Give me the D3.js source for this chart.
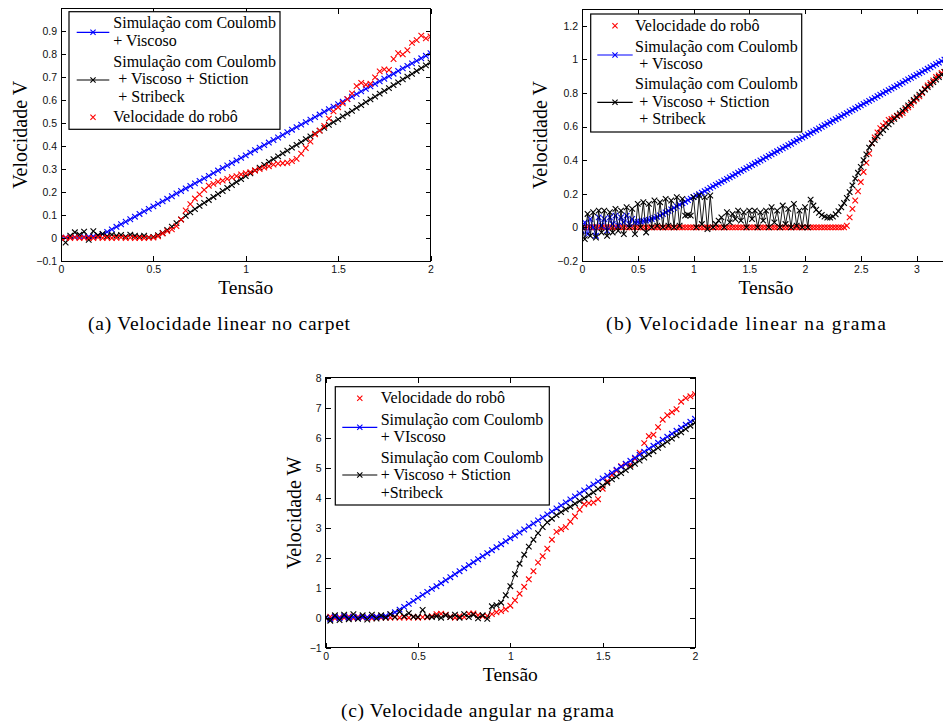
<!DOCTYPE html>
<html>
<head>
<meta charset="utf-8">
<script src="https://cdn.jsdelivr.net/npm/d3@7/dist/d3.min.js"></script>
<style>
  html, body { margin: 0; padding: 0; background: #fff; overflow: hidden; }
  svg { display: block; }
</style>
</head>
<body>
<div class="chart"></div>
<script>
//Sampling step of the voltage (Tensão) axis, shared by every series.
var step = 0.025;

//(a) Velocidade linear no carpet, x = 0 .. 2
var carpetBlue = [0, 0.002, 0.003, 0.004, 0.004, 0.005, 0.006, 0.007, 0.01, 0.017,
  0.027, 0.038, 0.049, 0.060, 0.071, 0.082, 0.093, 0.105, 0.116, 0.127,
  0.138, 0.149, 0.160, 0.171, 0.182, 0.194, 0.205, 0.216, 0.227, 0.238,
  0.249, 0.260, 0.271, 0.283, 0.294, 0.305, 0.316, 0.327, 0.338, 0.349,
  0.360, 0.372, 0.383, 0.394, 0.405, 0.416, 0.427, 0.438, 0.449, 0.461,
  0.472, 0.483, 0.494, 0.505, 0.516, 0.527, 0.538, 0.550, 0.561, 0.572,
  0.583, 0.594, 0.605, 0.616, 0.627, 0.639, 0.650, 0.661, 0.672, 0.683,
  0.694, 0.705, 0.716, 0.728, 0.739, 0.750, 0.761, 0.772, 0.783, 0.794, 0.805];
var carpetBlack = [0, -0.02, 0.01, 0.025, 0.015, 0.028, -0.008, 0.03, 0.012, 0.018,
  0.008, 0.015, 0.01, 0.014, 0.006, 0.015, 0.01, 0.006, 0.01, 0.003,
  0.005, 0.012, 0.022, 0.035, 0.05, 0.065, 0.081, 0.097, 0.112, 0.126,
  0.14, 0.153, 0.166, 0.179, 0.192, 0.205, 0.218, 0.231, 0.244, 0.257,
  0.27, 0.282, 0.295, 0.307, 0.319, 0.332, 0.344, 0.356, 0.369, 0.381,
  0.394, 0.406, 0.418, 0.431, 0.443, 0.455, 0.468, 0.480, 0.493, 0.505,
  0.517, 0.530, 0.542, 0.554, 0.567, 0.579, 0.592, 0.604, 0.616, 0.629,
  0.641, 0.653, 0.666, 0.678, 0.691, 0.703, 0.715, 0.728, 0.740, 0.752, 0.765];
var carpetRed = [0, 0.002, 0, 0.003, 0, 0.002, 0.001, 0, 0.003, 0,
  0.002, 0, 0.001, 0.003, 0, 0.002, 0, 0.001, 0, 0.002,
  0.002, 0.008, 0.02, 0.03, 0.038, 0.052, 0.08, 0.12, 0.148, 0.172,
  0.19, 0.21, 0.228, 0.236, 0.245, 0.25, 0.258, 0.265, 0.27, 0.277,
  0.282, 0.287, 0.294, 0.3, 0.307, 0.313, 0.32, 0.324, 0.326, 0.328,
  0.335, 0.345, 0.368, 0.392, 0.42, 0.452, 0.468, 0.488, 0.52, 0.552,
  0.57, 0.587, 0.605, 0.63, 0.662, 0.676, 0.668, 0.672, 0.7, 0.726,
  0.735, 0.732, 0.78, 0.805, 0.8, 0.818, 0.85, 0.862, 0.882, 0.87, 0.878];

//(b) Velocidade linear na grama, x = 0 .. 3.3
var gramaRed = [0, 0, 0, 0, 0, 0, 0, 0, 0, 0,
  0, 0, 0, 0, 0, 0, 0, 0, 0, 0,
  0, 0, 0, 0, 0, 0, 0, 0, 0, 0,
  0, 0, 0, 0, 0, 0, 0, 0, 0, 0,
  0, 0, 0, 0, 0, 0, 0, 0, 0, 0,
  0, 0, 0, 0, 0, 0, 0, 0, 0, 0,
  0, 0, 0, 0, 0, 0, 0, 0, 0, 0,
  0, 0, 0, 0, 0, 0, 0, 0, 0, 0,
  0, 0, 0, 0, 0, 0, 0, 0, 0, 0,
  0, 0, 0, 0, 0,
  0.01, 0.06, 0.11, 0.16, 0.215, 0.27, 0.33, 0.385, 0.44, 0.5,
  0.535, 0.565, 0.59, 0.605, 0.62, 0.64, 0.645, 0.655, 0.665, 0.67,
  0.68, 0.7, 0.715, 0.73, 0.75, 0.765, 0.78, 0.8, 0.825, 0.845,
  0.86, 0.875, 0.895, 0.905, 0.92, 0.925, 0.94, 0.95];
var gramaBlue = [-0.02, 0.03, -0.04, 0.05, 0, -0.05, 0.06, 0.01, 0.05, -0.02,
  0.06, 0.02, 0.07, 0.01, 0.06, 0.03, 0.07, 0.02, 0.05, 0.03,
  0.032, 0.035, 0.038, 0.041, 0.045, 0.05, 0.056, 0.063, 0.071, 0.080,
  0.089, 0.098, 0.107, 0.116, 0.125, 0.135, 0.144, 0.153, 0.162, 0.171,
  0.18, 0.189, 0.198, 0.207, 0.216, 0.225, 0.235, 0.244, 0.253, 0.262,
  0.271, 0.28, 0.289, 0.298, 0.307, 0.316, 0.326, 0.335, 0.344, 0.353,
  0.362, 0.371, 0.38, 0.389, 0.398, 0.407, 0.417, 0.426, 0.435, 0.444,
  0.453, 0.462, 0.471, 0.48, 0.489, 0.498, 0.508, 0.517, 0.526, 0.535,
  0.544, 0.553, 0.562, 0.571, 0.58, 0.589, 0.599, 0.608, 0.617, 0.626,
  0.635, 0.644, 0.653, 0.662, 0.671, 0.68, 0.69, 0.699, 0.708, 0.717,
  0.726, 0.735, 0.744, 0.753, 0.762, 0.771, 0.781, 0.79, 0.799, 0.808,
  0.817, 0.826, 0.835, 0.844, 0.853, 0.862, 0.872, 0.881, 0.89, 0.899,
  0.908, 0.917, 0.926, 0.935, 0.944, 0.953, 0.963, 0.972, 0.981, 0.99,
  0.999, 1.008, 1.017];
var gramaBlack = [0, -0.07, 0.08, -0.05, 0.09, -0.06, 0.1, -0.03, 0.1, -0.05,
  0.09, -0.03, 0.11, -0.02, 0.1, -0.04, 0.12, 0, 0.11, -0.04,
  0.14, 0, 0.15, -0.03, 0.14, 0, 0.16, 0.01, 0.15, 0,
  0.17, 0.01, 0.16, 0, 0.18, 0.01, 0.17, 0.07, 0.075, 0.07,
  0.18, 0, 0.19, 0.02, 0.18, -0.01, 0.19, 0, 0.02, 0.04,
  0.06, 0, 0.09, 0.03, 0.08, 0.05, 0.1, 0.04, 0.09, 0,
  0.1, 0.05, 0.1, 0, 0.09, 0.04, 0.1, 0, 0.12, 0.03,
  0.1, 0, 0.13, 0.02, 0.11, 0, 0.14, 0.01, 0.1, 0,
  0.12, 0,
  0.165, 0.13, 0.105, 0.087, 0.074, 0.064, 0.058, 0.058, 0.064, 0.078,
  0.097, 0.12, 0.145, 0.175, 0.21, 0.25, 0.29, 0.325, 0.36, 0.4,
  0.435, 0.475, 0.5, 0.52, 0.542, 0.562, 0.58, 0.597, 0.614, 0.63,
  0.646, 0.662, 0.678, 0.694, 0.71, 0.726, 0.742, 0.758, 0.773, 0.79,
  0.805, 0.82, 0.835, 0.85, 0.865, 0.88, 0.895, 0.91, 0.925, 0.94, 0.955];

//(c) Velocidade angular na grama, x = 0 .. 2
var angularRed = [0, 0.03, -0.02, 0.02, 0, 0.04, -0.02, 0.03, 0, 0.02,
  -0.02, 0.03, 0, 0.02, 0, 0.03, 0, 0.02, 0, 0.03,
  0, 0.02, 0.01, 0.05, 0.12, 0.13, 0.1, 0.03, 0, 0.05,
  0.02, 0.13, 0.14, 0.08, 0.05, 0.06, 0.12, 0.18, 0.22, 0.28,
  0.4, 0.58, 0.8, 1.03, 1.28, 1.55, 1.84, 2.05, 2.3, 2.6,
  2.86, 2.95, 3.02, 3.2, 3.38, 3.6, 3.78, 3.82, 3.84, 3.95,
  4.3, 4.55, 4.75, 4.9, 5.05, 5.12, 5.1, 5.3, 5.5, 5.82,
  6.05, 6.1, 6.35, 6.6, 6.75, 6.85, 6.95, 7.2, 7.32, 7.38, 7.45];
var angularBlue = [0, -0.05, 0.03, -0.02, 0.05, 0, 0.03, 0, 0.02, 0.01,
  0.02, 0.03, 0.03, 0.06, 0.11, 0.18, 0.27, 0.36, 0.46, 0.56,
  0.66, 0.76, 0.86, 0.96, 1.05, 1.15, 1.25, 1.35, 1.45, 1.55,
  1.65, 1.75, 1.85, 1.95, 2.05, 2.15, 2.25, 2.35, 2.45, 2.55,
  2.65, 2.74, 2.84, 2.94, 3.04, 3.14, 3.24, 3.34, 3.44, 3.54,
  3.64, 3.74, 3.84, 3.94, 4.04, 4.14, 4.24, 4.34, 4.44, 4.54,
  4.64, 4.73, 4.83, 4.93, 5.03, 5.13, 5.23, 5.33, 5.43, 5.53,
  5.63, 5.73, 5.83, 5.93, 6.03, 6.13, 6.23, 6.33, 6.43, 6.53, 6.63];
var angularBlack = [0, -0.1, 0.08, -0.08, 0.1, -0.05, 0.12, -0.04, 0.08, -0.06,
  0.1, -0.03, 0.08, 0, 0.12, 0.02, 0.2, 0.05, 0.15, 0.03,
  0.02, 0.26, 0.03, 0.02, 0.05, 0, 0.08, 0.02, 0.1, 0,
  0.12, 0.02, 0.1, -0.02, 0.08, -0.04, 0.38, 0.42, 0.5, 0.75,
  1.05, 1.45, 1.8, 2.1, 2.37, 2.6, 2.82, 3.02, 3.18, 3.3,
  3.42, 3.52, 3.61, 3.7, 3.8, 3.89, 3.98, 4.08, 4.18, 4.29,
  4.4, 4.5, 4.61, 4.71, 4.82, 4.92, 5.03, 5.13, 5.24, 5.34,
  5.45, 5.55, 5.66, 5.76, 5.87, 5.97, 6.08, 6.18, 6.29, 6.4, 6.5];

//Tick values.
var xTicks2 = [0, 0.5, 1, 1.5, 2];
var xTicks3 = [0, 0.5, 1, 1.5, 2, 2.5, 3];
var yTicksA = [-0.1, 0, 0.1, 0.2, 0.3, 0.4, 0.5, 0.6, 0.7, 0.8, 0.9];
var yTicksB = [-0.2, 0, 0.2, 0.4, 0.6, 0.8, 1, 1.2];
var yTicksC = [-1, 0, 1, 2, 3, 4, 5, 6, 7, 8];

var BLUE = "#0000ff", BLACK = "#000000", RED = "#ff0000";
var serif = "'Liberation Serif', 'Times New Roman', serif";
var sans = "'Liberation Sans', Arial, Helvetica, sans-serif";

var svg = d3.select(".chart")
  .append("svg")
  .attr("width", 943)
  .attr("height", 727);

//Panel layouts (plot area in pixels, legend boxes, captions).
var panels = [
  {
    id: "a", left: 61, top: 8.5, right: 430.5, bottom: 261,
    xDomain: [0, 2], yDomain: [-0.1, 1.0], xTicks: xTicks2, yTicks: yTicksA,
    yLabel: "Velocidade V", yLabelGap: 34.5,
    series: [
      { values: carpetBlue, color: BLUE, line: true },
      { values: carpetBlack, color: BLACK, line: true },
      { values: carpetRed, color: RED, line: false }
    ],
    legend: { x: 69, y: 11.7, w: 211, h: 117.6, sx1: 76.7, sx2: 109.3, items: [
      { color: BLUE, line: true, sy: 32.3, texts: [["Simulação com Coulomb", 113.3, 28], ["+ Viscoso", 113.3, 45.7]] },
      { color: BLACK, line: true, sy: 80, texts: [["Simulação com Coulomb", 113.3, 66.7], ["+ Viscoso + Stiction", 118.3, 84], ["+ Stribeck", 118.3, 101.7]] },
      { color: RED, line: false, sy: 117.3, texts: [["Velocidade do robô", 113.3, 121.7]] }
    ] },
    caption: { text: "(a) Velocidade linear no carpet", x: 88, y: 330, len: 262 }
  },
  {
    id: "b", left: 582, top: 9, right: 950, bottom: 261,
    xDomain: [0, 3.3], yDomain: [-0.2, 1.3], xTicks: xTicks3, yTicks: yTicksB,
    yLabel: "Velocidade V", yLabelGap: 35.5,
    series: [
      { values: gramaRed, color: RED, line: false },
      { values: gramaBlue, color: BLUE, line: true },
      { values: gramaBlack, color: BLACK, line: true }
    ],
    legend: { x: 590.7, y: 14, w: 211, h: 118, sx1: 597.3, sx2: 632.7, items: [
      { color: RED, line: false, sy: 25.7, texts: [["Velocidade do robô", 635, 30.7]] },
      { color: BLUE, line: true, sy: 55, texts: [["Simulação com Coulomb", 635, 51.7], ["+ Viscoso", 639.3, 69]] },
      { color: BLACK, line: true, sy: 102.3, texts: [["Simulação com Coulomb", 635, 89.3], ["+ Viscoso + Stiction", 639.3, 107.3], ["+ Stribeck", 639.3, 124.3]] }
    ] },
    caption: { text: "(b) Velocidade linear na grama", x: 606, y: 330, len: 280 }
  },
  {
    id: "c", left: 325.7, top: 377.7, right: 695, bottom: 647.7,
    xDomain: [0, 2], yDomain: [-1, 8], xTicks: xTicks2, yTicks: yTicksC,
    yLabel: "Velocidade W", yLabelGap: 25.2,
    series: [
      { values: angularRed, color: RED, line: false },
      { values: angularBlue, color: BLUE, line: true },
      { values: angularBlack, color: BLACK, line: true }
    ],
    legend: { x: 335.3, y: 386.7, w: 214, h: 118.3, sx1: 342.3, sx2: 377.3, items: [
      { color: RED, line: false, sy: 398.3, texts: [["Velocidade do robô", 380.7, 403.3]] },
      { color: BLUE, line: true, sy: 427.3, texts: [["Simulação com Coulomb", 380.7, 425], ["+ VIscoso", 380.7, 441.7]] },
      { color: BLACK, line: true, sy: 475, texts: [["Simulação com Coulomb", 380.7, 462.7], ["+ Viscoso + Stiction", 380.7, 480], ["+Stribeck", 380.7, 497.7]] }
    ] },
    caption: { text: "(c) Velocidade angular na grama", x: 341, y: 717, len: 273 }
  }
];

//MATLAB style tick labels with a real minus sign.
function tickFmt(d) {
  return String(Math.round(d * 10) / 10).replace("-", "\u2212");
}

//Draw an "x" marker centred on (cx, cy).
function markerPath(cx, cy, r) {
  return "M" + (cx - r) + "," + (cy - r) + "L" + (cx + r) + "," + (cy + r) +
    "M" + (cx - r) + "," + (cy + r) + "L" + (cx + r) + "," + (cy - r);
}

panels.forEach(function(p) {
  var width = p.right - p.left;
  var height = p.bottom - p.top;

  var xScale = d3.scaleLinear().domain(p.xDomain).range([0, width]);
  var yScale = d3.scaleLinear().domain(p.yDomain).range([height, 0]);

  var g = svg.append("g")
    .attr("transform", "translate(" + p.left + "," + p.top + ")");

  //Clip the data to the plot box.
  g.append("clipPath")
    .attr("id", "clip-" + p.id)
    .append("rect")
    .attr("width", width)
    .attr("height", height);

  var plot = g.append("g").attr("clip-path", "url(#clip-" + p.id + ")");

  var line = d3.line()
    .x(function(d) { return xScale(d[0]); })
    .y(function(d) { return yScale(d[1]); });

  p.series.forEach(function(s) {
    var pts = s.values.map(function(v, i) { return [i * step, v]; });
    var sg = plot.append("g");
    if (s.line) {
      sg.append("path")
        .datum(pts)
        .attr("d", line)
        .attr("fill", "none")
        .attr("stroke", s.color)
        .attr("stroke-width", 0.9);
    }
    sg.selectAll("path.mk")
      .data(pts)
      .enter()
      .append("path")
      .attr("class", "mk")
      .attr("d", function(d) { return markerPath(xScale(d[0]), yScale(d[1]), 2.8); })
      .attr("stroke", s.color)
      .attr("stroke-width", 1.1)
      .attr("fill", "none");
  });

  //Axes with inward ticks on all four sides.
  function styleAxis(sel) {
    sel.select(".domain").remove();
    sel.attr("font-family", sans).attr("font-size", 10.5);
    sel.selectAll(".tick line").attr("stroke", "#000").attr("shape-rendering", "crispEdges");
    sel.selectAll(".tick text").attr("fill", "#111");
  }

  g.append("g")
    .attr("transform", "translate(0," + height + ")")
    .call(d3.axisBottom(xScale).tickValues(p.xTicks).tickFormat(tickFmt)
      .tickSizeInner(-5).tickSizeOuter(0).tickPadding(5))
    .call(styleAxis);

  g.append("g")
    .call(d3.axisTop(xScale).tickValues(p.xTicks).tickFormat("")
      .tickSizeInner(-5).tickSizeOuter(0))
    .call(styleAxis);

  g.append("g")
    .call(d3.axisLeft(yScale).tickValues(p.yTicks).tickFormat(tickFmt)
      .tickSizeInner(-5).tickSizeOuter(0).tickPadding(4))
    .call(styleAxis);

  g.append("g")
    .attr("transform", "translate(" + width + ",0)")
    .call(d3.axisRight(yScale).tickValues(p.yTicks).tickFormat("")
      .tickSizeInner(-5).tickSizeOuter(0))
    .call(styleAxis);

  //Plot box.
  g.append("rect")
    .attr("width", width)
    .attr("height", height)
    .attr("fill", "none")
    .attr("stroke", "#000")
    .attr("stroke-width", 1)
    .attr("shape-rendering", "crispEdges");

  //Axis titles.
  g.append("text")
    .attr("x", width / 2)
    .attr("y", height + 33)
    .attr("text-anchor", "middle")
    .attr("font-family", serif)
    .attr("font-size", 19.5)
    .text("Tensão");

  g.append("text")
    .attr("transform", "translate(" + (-p.yLabelGap) + "," + (height / 2) + ") rotate(-90)")
    .attr("text-anchor", "middle")
    .attr("font-family", serif)
    .attr("font-size", 20)
    .text(p.yLabel);

  //Legend.
  var lg = p.legend;
  var leg = svg.append("g");
  leg.append("rect")
    .attr("x", lg.x)
    .attr("y", lg.y)
    .attr("width", lg.w)
    .attr("height", lg.h)
    .attr("fill", "#fff")
    .attr("stroke", "#000")
    .attr("stroke-width", 1.2);

  lg.items.forEach(function(it) {
    var mx = (lg.sx1 + lg.sx2) / 2;
    if (it.line) {
      leg.append("line")
        .attr("x1", lg.sx1).attr("x2", lg.sx2)
        .attr("y1", it.sy).attr("y2", it.sy)
        .attr("stroke", it.color)
        .attr("stroke-width", 1.2);
    }
    leg.append("path")
      .attr("d", markerPath(mx, it.sy, 2.6))
      .attr("stroke", it.color)
      .attr("stroke-width", 1.1)
      .attr("fill", "none");
    it.texts.forEach(function(t) {
      leg.append("text")
        .attr("x", t[1])
        .attr("y", t[2])
        .attr("font-family", serif)
        .attr("font-size", 16)
        .text(t[0]);
    });
  });

  //Caption under the subfigure.
  svg.append("text")
    .attr("x", p.caption.x)
    .attr("y", p.caption.y)
    .attr("font-family", serif)
    .attr("font-size", 19.5)
    .attr("textLength", p.caption.len)
    .attr("lengthAdjust", "spacing")
    .text(p.caption.text);
});
</script>
</body>
</html>
